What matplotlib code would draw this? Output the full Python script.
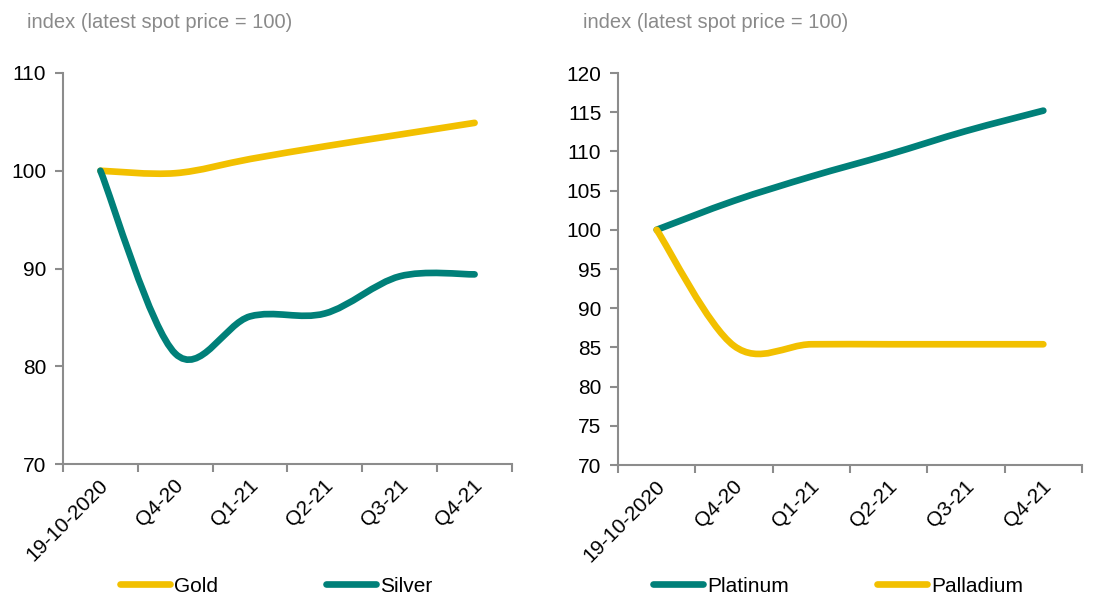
import numpy as np
import matplotlib
matplotlib.use("Agg")
import matplotlib.pyplot as plt
import matplotlib.transforms as mtransforms
from matplotlib.path import Path
from matplotlib.patches import PathPatch
from matplotlib.lines import Line2D

plt.rcParams['font.family'] = ['Liberation Sans', 'DejaVu Sans']

categories = ["19-10-2020", "Q4-20", "Q1-21", "Q2-21", "Q3-21", "Q4-21"]

gold = [100, 99.75, 101.2, 102.5, 103.7, 104.9]
silver = [100, 81.3, 85.1, 85.4, 89.2, 89.4]
platinum = [100, 103.7, 106.8, 109.6, 112.6, 115.2]
palladium = [100, 85.2, 85.4, 85.4, 85.4, 85.4]

GOLD = "#F2C000"
TEAL = "#008079"
AXIS = "#8C8C8C"
TITLE = "#8A8A8A"
LW = 4.8


# smooth line like excel's "smoothed line" option (cubic bezier through points)
def smooth_path(ys):
	xs = np.arange(len(ys), dtype=float)
	ys = np.asarray(ys, dtype=float)
	pts = np.column_stack([xs, ys])
	n = len(pts)
	verts = [pts[0]]
	codes = [Path.MOVETO]
	for i in range(n - 1):
		p0 = pts[max(i - 1, 0)]
		p1 = pts[i]
		p2 = pts[i + 1]
		p3 = pts[min(i + 2, n - 1)]
		c1 = p1 + (p2 - p0) / 6
		c2 = p2 - (p3 - p1) / 6
		verts += [c1, c2, p2]
		codes += [Path.CURVE4] * 3
	return Path(verts, codes)


def style_axis(ax, ymin, ymax, step):
	ax.set_xlim(-0.5, len(categories) - 0.5)
	ax.set_ylim(ymin, ymax)
	ax.set_yticks(np.arange(ymin, ymax + 0.1, step))
	ax.set_xticks(np.arange(len(categories)))
	ax.set_xticklabels(categories, rotation=45, ha='right', va='center',
					   rotation_mode='anchor', fontsize=15)
	ax.set_xticks(np.arange(-0.5, len(categories)), minor=True)
	ax.tick_params(axis='x', which='major', length=0, pad=13)
	ax.tick_params(axis='x', which='minor', length=6, width=1.5, color=AXIS, direction='out')
	ax.tick_params(axis='y', length=6, width=1.5, color=AXIS, labelsize=15, pad=6)
	shift = mtransforms.ScaledTranslation(5 / 100, 0, fig.dpi_scale_trans)
	for lab in ax.get_xticklabels():
		lab.set_transform(lab.get_transform() + shift)
	for s in ['top', 'right']:
		ax.spines[s].set_visible(False)
	for s in ['left', 'bottom']:
		ax.spines[s].set_color(AXIS)
		ax.spines[s].set_linewidth(1.5)


def draw(ax, ys, color, z):
	patch = PathPatch(smooth_path(ys), facecolor='none', edgecolor=color,
					  linewidth=LW, capstyle='round', joinstyle='round', zorder=z)
	ax.add_patch(patch)


fig = plt.figure(figsize=(10.99, 5.96), dpi=100)

ax1 = fig.add_axes([63 / 1099, 1 - 464 / 596, 449 / 1099, 391 / 596])
ax2 = fig.add_axes([618 / 1099, 1 - 465 / 596, 464 / 1099, 392 / 596])

style_axis(ax1, 70, 110, 10)
style_axis(ax2, 70, 120, 5)

draw(ax1, silver, TEAL, 3)
draw(ax1, gold, GOLD, 2)
draw(ax2, platinum, TEAL, 2)
draw(ax2, palladium, GOLD, 3)

fig.text(27 / 1099, 1 - 23 / 596, "index (latest spot price = 100)", color=TITLE,
		 fontsize=14.5, va='center', ha='left')
fig.text(583 / 1099, 1 - 23 / 596, "index (latest spot price = 100)", color=TITLE,
		 fontsize=14.5, va='center', ha='left')

h_gold = Line2D([], [], color=GOLD, lw=LW, solid_capstyle='round')
h_silver = Line2D([], [], color=TEAL, lw=LW, solid_capstyle='round')

fig.legend([h_gold, h_silver], ["Gold", "Silver"], loc='center',
		   bbox_to_anchor=(276 / 1099, 1 - 586 / 596), ncol=2, frameon=False,
		   fontsize=15, handlelength=2.4, handletextpad=0.2, columnspacing=5.2)
fig.legend([h_silver, h_gold], ["Platinum", "Palladium"], loc='center',
		   bbox_to_anchor=(838 / 1099, 1 - 586 / 596), ncol=2, frameon=False,
		   fontsize=15, handlelength=2.4, handletextpad=0.2, columnspacing=4.2)

fig.savefig("out.png", dpi=100)
